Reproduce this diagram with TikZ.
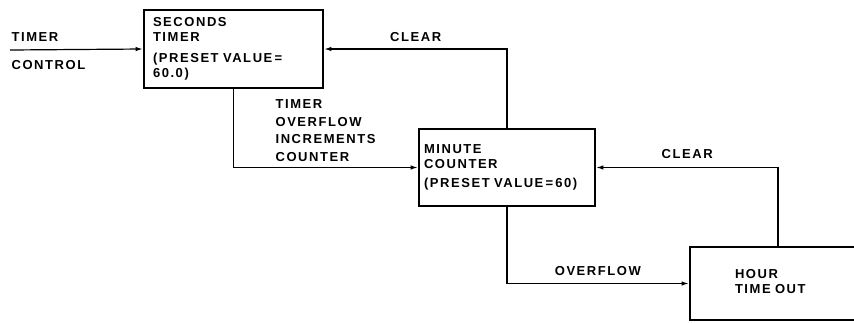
\documentclass[tikz,border=0pt]{standalone}
\usepackage{fontspec}
\setmainfont{Liberation Sans}
\newfontfamily\letterfont{Liberation Sans}[LetterSpace=12]
\usepackage{tikz}
\usetikzlibrary{arrows.meta, positioning}

\begin{document}
\begin{tikzpicture}[
    x=1pt, y=-1pt,
    every node/.style={font=\letterfont\bfseries\fontsize{13}{14.5}\selectfont},
    box/.style={rectangle, draw, line width=2.6pt, minimum width=176pt, align=left, inner sep=8pt},
    tag/.style={inner sep=0pt, align=left},
    conn/.style={-{Latex[length=7pt, width=4.5pt]}, line width=1.2pt}
]
\useasboundingbox (0,0) rectangle (854,322);
\clip (0,0) rectangle (854,322);

% Blocks
\node[box, minimum width=179pt, minimum height=77pt, text width=161pt] (seconds) at (233.5,49)
    {SECONDS\\TIMER\\[7pt](PRESET VALUE\,=\\60.0)};
\node[box, inner xsep=5pt, minimum height=77pt, text width=166pt] (minute) at (507,167.5)
    {MINUTE\\COUNTER\\[5pt](PRESET VALUE\,=\,60)};

% Hour block runs off the right edge
\node[box, minimum width=260pt, minimum height=73pt] (hour) at (820,283.5) {};
\node[tag, text width=86pt, xshift=-42pt, yshift=2pt] (hourtext) at (hour.center) {HOUR\\TIME OUT};

% Input
\coordinate (ctrlin) at (10,50);

% Connectors
\draw[conn] (ctrlin) -- node[tag, pos=0, anchor=south west, xshift=1pt, yshift=8pt] {TIMER}
    node[tag, pos=0, anchor=north west, xshift=1pt, yshift=-10pt] {CONTROL} (seconds.west);
\draw[conn] (minute.north) |- node[tag, pos=0.75, above, yshift=7pt] {CLEAR} (seconds.east);
\draw[conn] (hourtext |- hour.north) |- node[tag, pos=0.75, above, yshift=8pt] {CLEAR} (minute.east);
\draw[conn] (seconds.south) |- node[tag, pos=0.5, anchor=south west, xshift=41.5pt, yshift=5.5pt]
    {TIMER\\[3pt]OVERFLOW\\[3pt]INCREMENTS\\[3pt]COUNTER} (minute.west);
\draw[conn] (minute.south) |- node[tag, pos=0.75, above, yshift=7pt] {OVERFLOW} (hour.west);

\end{tikzpicture}
\end{document}
